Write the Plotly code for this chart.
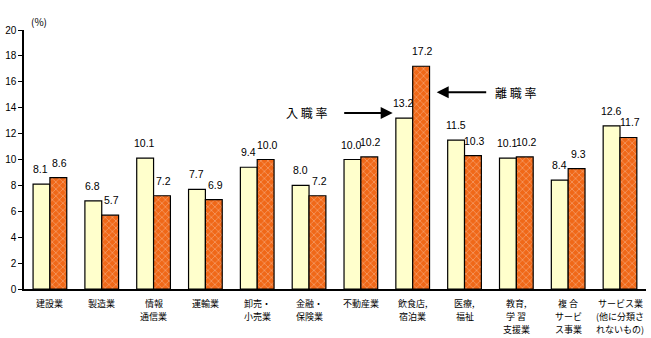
import plotly.graph_objects as go

categories = ["建設業", "製造業", "情報\n通信業", "運輸業", "卸売・\n小売業", "金融・\n保険業",
              "不動産業", "飲食店,\n宿泊業", "医療,\n福祉", "教育,\n学 習\n支援業",
              "複 合\nサービ\nス事業", "サービス業\n(他に分類さ\nれないもの)"]
hire_rate = [8.1, 6.8, 10.1, 7.7, 9.4, 8.0, 10.0, 13.2, 11.5, 10.1, 8.4, 12.6]
sep_rate = [8.6, 5.7, 7.2, 6.9, 10.0, 7.2, 10.2, 17.2, 10.3, 10.2, 9.3, 11.7]
y_ticks = [0, 2, 4, 6, 8, 10, 12, 14, 16, 18, 20]

FONT = "Noto Sans CJK JP"
NUMFONT = "Liberation Sans"

fig = go.Figure()
fig.add_trace(go.Bar(x=categories, y=hire_rate, name="入職率",
                     marker=dict(color="#ffffcc", line=dict(color="black", width=1.2))))
fig.add_trace(go.Bar(x=categories, y=sep_rate, name="離職率",
                     marker=dict(color="#f47a2a", line=dict(color="black", width=1.2),
                                 pattern=dict(shape="x", fgcolor="white", bgcolor="#f06818",
                                              size=5, solidity=0.2))))

annotations = []
for c, h, s in zip(categories, hire_rate, sep_rate):
    annotations.append(dict(x=c, y=h, text=f"{h:.1f}", xref="x", yref="y", showarrow=False,
                            xshift=-9, yshift=15, font=dict(size=10.5, color="black", family=NUMFONT)))
    annotations.append(dict(x=c, y=s, text=f"{s:.1f}", xref="x", yref="y", showarrow=False,
                            xshift=10, yshift=15, font=dict(size=10.5, color="black", family=NUMFONT)))

# category labels, one annotation per line
for c in categories:
    for k, line in enumerate(c.split("\n")):
        annotations.append(dict(x=c, y=0, xref="x", yref="paper", yanchor="top", showarrow=False,
                                text=line, yshift=-6 - 13 * k,
                                font=dict(size=9, family=FONT, color="black")))

# arrows
annotations.append(dict(x=categories[7], y=13.6, xref="x", yref="y", ax=-50, ay=0,
                        xshift=-20, showarrow=True, arrowhead=2, arrowsize=1.2, arrowwidth=2,
                        arrowcolor="black", text=""))
annotations.append(dict(x=categories[7], y=13.6, xref="x", yref="y", text="入 職 率",
                        showarrow=False, xshift=-106, font=dict(size=12, family=FONT, color="black")))
annotations.append(dict(x=categories[7], y=15.2, xref="x", yref="y", ax=51, ay=0,
                        xshift=24, showarrow=True, arrowhead=2, arrowsize=1.2, arrowwidth=2,
                        arrowcolor="black", text=""))
annotations.append(dict(x=categories[7], y=15.2, xref="x", yref="y", text="離 職 率",
                        showarrow=False, xshift=103, font=dict(size=12, family=FONT, color="black")))
annotations.append(dict(x=0, y=1, xref="paper", yref="paper", text="(%)", showarrow=False,
                        xshift=5, yshift=18, font=dict(size=10, family=FONT, color="black")))

fig.update_layout(
    width=651, height=338,
    margin=dict(l=22, r=5, t=30, b=49),
    plot_bgcolor="white", paper_bgcolor="white",
    barmode="group", bargap=0.35, bargroupgap=0,
    showlegend=False,
    font=dict(family=FONT, size=10, color="black"),
    annotations=annotations,
    xaxis=dict(showline=True, linecolor="black", linewidth=1.5, ticks="", showticklabels=False,
               showgrid=False),
    yaxis=dict(range=[0, 20], tickvals=y_ticks, showline=True, linecolor="black", linewidth=1.5,
               ticks="outside", ticklen=4, tickcolor="black", showgrid=False, zeroline=False,
               tickfont=dict(size=10, family=NUMFONT)),
)
fig.write_html("out.html")
